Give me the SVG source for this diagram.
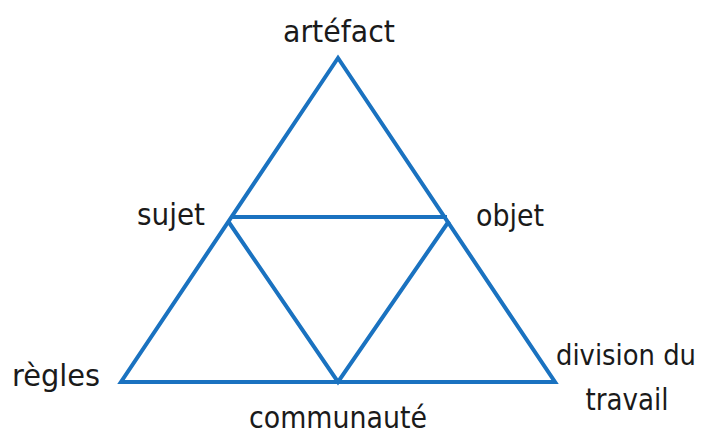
<svg xmlns="http://www.w3.org/2000/svg" width="704" height="436" viewBox="0 0 704 436">
<style>
.ln{fill:none;stroke:#1a72c0;stroke-width:4;stroke-linejoin:miter}
.t{font-family:"DejaVu Sans Condensed","Liberation Sans Narrow","Liberation Sans",sans-serif;font-size:31px;fill:#1a1a1a;text-anchor:middle}
</style>
<rect width="704" height="436" fill="#ffffff"/>
<g id="connectors">
<polygon class="ln" points="338,58 121,382 555,382"/>
<line class="ln" x1="231" y1="217" x2="447" y2="217"/>
<polyline class="ln" points="228,221 338,382 449,221"/>
</g>
<g id="artefact"><text class="t" x="339" y="42" textLength="112" lengthAdjust="spacingAndGlyphs">artéfact</text></g>
<g id="sujet"><text class="t" x="171" y="225" textLength="68" lengthAdjust="spacingAndGlyphs">sujet</text></g>
<g id="objet"><text class="t" x="510" y="226" textLength="68" lengthAdjust="spacingAndGlyphs">objet</text></g>
<g id="regles"><text class="t" x="56" y="386" textLength="88" lengthAdjust="spacingAndGlyphs">règles</text></g>
<g id="communaute"><text class="t" x="338" y="428" textLength="178" lengthAdjust="spacingAndGlyphs">communauté</text></g>
<g id="division"><text class="t" x="626" y="365" style="font-size:29px" textLength="140" lengthAdjust="spacingAndGlyphs">division du</text><text class="t" x="627" y="410" textLength="83" lengthAdjust="spacingAndGlyphs">travail</text></g>
</svg>
